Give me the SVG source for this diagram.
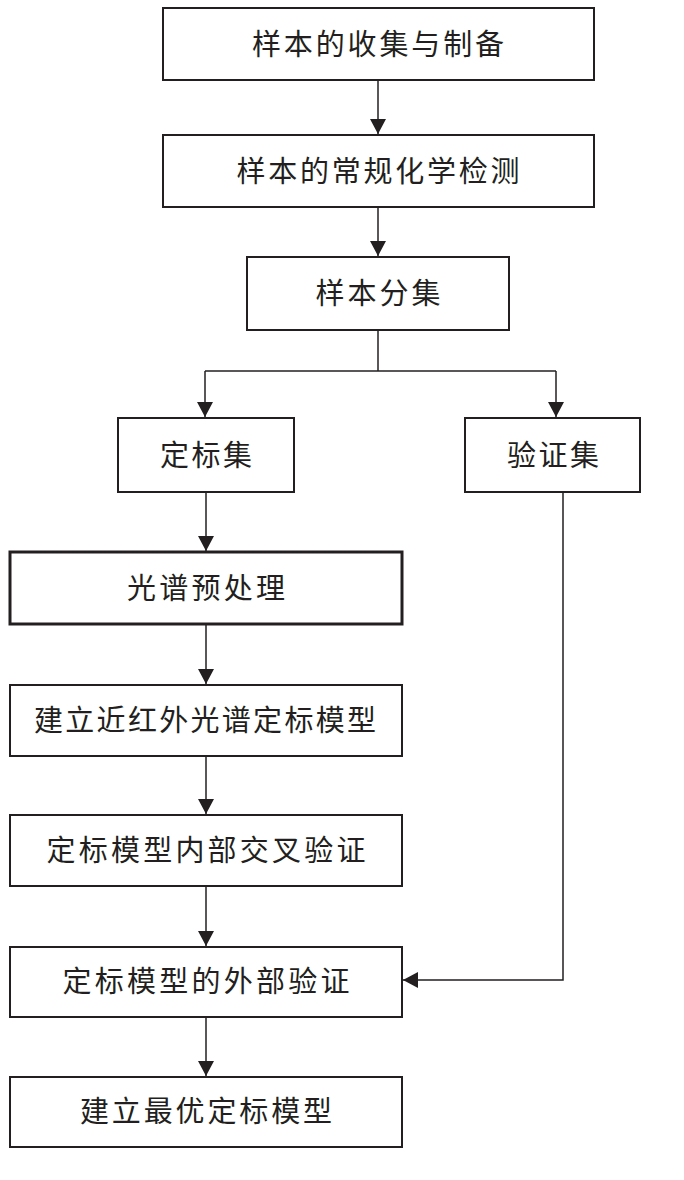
<svg xmlns="http://www.w3.org/2000/svg" width="684" height="1180" viewBox="0 0 684 1180">
<defs>
<style>
.box{fill:#fff;stroke:#231f20;stroke-width:2}
.thick{stroke-width:3}
.lbl{font-family:"Noto Sans CJK SC","Noto Sans CJK JP",sans-serif;font-size:29px;fill:#231f20;text-anchor:middle}
.con{fill:none;stroke:#231f20;stroke-width:1.5}
</style>
<marker id="ah" markerUnits="userSpaceOnUse" markerWidth="18" markerHeight="18" refX="15" refY="8" orient="auto">
<path d="M0,0 L15,8 L0,16 Z" fill="#231f20"/>
</marker>
</defs>
<rect width="684" height="1180" fill="#fff"/>
<g id="connectors">
<path class="con" d="M378,80 V134" marker-end="url(#ah)"/>
<path class="con" d="M378,207 V256" marker-end="url(#ah)"/>
<path class="con" d="M378,330 V371"/>
<path class="con" d="M205,371 H556"/>
<path class="con" d="M205,371 V417" marker-end="url(#ah)"/>
<path class="con" d="M556,371 V417" marker-end="url(#ah)"/>
<path class="con" d="M206,492 V551" marker-end="url(#ah)"/>
<path class="con" d="M206,624 V684" marker-end="url(#ah)"/>
<path class="con" d="M206,756 V814" marker-end="url(#ah)"/>
<path class="con" d="M206,886 V946" marker-end="url(#ah)"/>
<path class="con" d="M206,1017 V1076" marker-end="url(#ah)"/>
<path class="con" d="M563,492 V980 H403" marker-end="url(#ah)"/>
</g>
<g id="n1"><rect class="box" x="163" y="8" width="431" height="72"/><text class="lbl" x="378" y="55" textLength="252" lengthAdjust="spacing">样本的收集与制备</text></g>
<g id="n2"><rect class="box" x="163" y="135" width="431" height="72"/><text class="lbl" x="378" y="182" textLength="283" lengthAdjust="spacing">样本的常规化学检测</text></g>
<g id="n3"><rect class="box" x="247" y="257" width="262" height="73"/><text class="lbl" x="378" y="304" textLength="125" lengthAdjust="spacing">样本分集</text></g>
<g id="n4"><rect class="box" x="118" y="418" width="176" height="74"/><text class="lbl" x="206" y="466" textLength="92" lengthAdjust="spacing">定标集</text></g>
<g id="n5"><rect class="box" x="465" y="418" width="175" height="74"/><text class="lbl" x="553" y="466" textLength="92" lengthAdjust="spacing">验证集</text></g>
<g id="n6"><rect class="box thick" x="10" y="552" width="392" height="72"/><text class="lbl" x="206" y="599" textLength="158" lengthAdjust="spacing">光谱预处理</text></g>
<g id="n7"><rect class="box" x="10" y="685" width="392" height="71"/><text class="lbl" x="205" y="731" textLength="342" lengthAdjust="spacing">建立近红外光谱定标模型</text></g>
<g id="n8"><rect class="box" x="10" y="815" width="392" height="71"/><text class="lbl" x="206" y="861" textLength="319" lengthAdjust="spacing">定标模型内部交叉验证</text></g>
<g id="n9"><rect class="box" x="10" y="947" width="392" height="70"/><text class="lbl" x="206" y="992" textLength="287" lengthAdjust="spacing">定标模型的外部验证</text></g>
<g id="n10"><rect class="box" x="10" y="1077" width="392" height="70"/><text class="lbl" x="206" y="1122" textLength="252" lengthAdjust="spacing">建立最优定标模型</text></g>
</svg>
